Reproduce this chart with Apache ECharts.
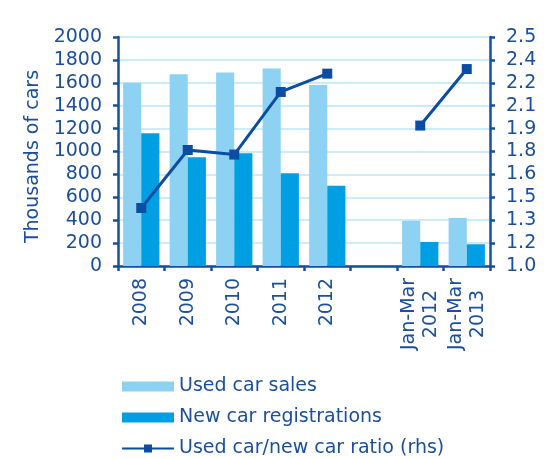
<!DOCTYPE html>
<html>
<head>
<meta charset="utf-8">
<script src="https://cdn.jsdelivr.net/npm/echarts@6/dist/echarts.min.js"></script>
<style>html,body{margin:0;padding:0;background:#fff;}#c{width:548px;height:459px;}</style>
</head>
<body>
<div id="c"></div>
<script>
var categories = ['2008', '2009', '2010', '2011', '2012', '', 'Jan-Mar\n2012', 'Jan-Mar\n2013'];
var usedCarSales = [1600, 1675, 1690, 1725, 1580, null, 395, 420];
var newCarRegistrations = [1160, 950, 985, 810, 700, null, 210, 190];
var ratio = [1.38, 1.76, 1.73, 2.14, 2.26, null, 1.92, 2.29];
var leftTicks = ['0', '200', '400', '600', '800', '1000', '1200', '1400', '1600', '1800', '2000'];
var rightTicks = ['1.0', '1.2', '1.3', '1.5', '1.6', '1.8', '1.9', '2.1', '2.2', '2.4', '2.5'];

var TXT = '#1B4F9B';
var AX = '#1450A0';
var FONT = 'DejaVu Sans';
var FS = 19;
var chart = echarts.init(document.getElementById('c'));
chart.setOption({
  animation: false,
  backgroundColor: '#fff',
  textStyle: { fontFamily: FONT, color: TXT },
  grid: { left: 118, right: 58, top: 37, bottom: 193, containLabel: false },
  legend: {
    orient: 'vertical', left: 121, top: 377, padding: 0, itemWidth: 52, itemHeight: 10, itemGap: 12,
    textStyle: { fontSize: FS, color: TXT, fontFamily: FONT },
    data: [
      { name: 'Used car sales', icon: 'rect' },
      { name: 'New car registrations', icon: 'rect' },
      { name: 'Used car/new car ratio (rhs)' }
    ]
  },
  xAxis: {
    type: 'category', data: categories,
    axisLine: { lineStyle: { color: AX, width: 2.5 } },
    axisTick: { show: true, length: 5, lineStyle: { color: AX, width: 2.5 } },
    axisLabel: {
      rotate: 90, margin: 12, fontSize: FS, color: TXT, fontFamily: FONT, interval: 0, lineHeight: 21,
      formatter: function (v) {
        var p = v.split('\n');
        if (p.length === 2) return '{a|' + p[0] + '}\n{b|' + p[1] + '}';
        return v;
      },
      rich: {
        a: { fontSize: FS, color: TXT, fontFamily: FONT, lineHeight: 22 },
        b: { fontSize: FS, color: TXT, fontFamily: FONT, lineHeight: 22, width: 72, align: 'center' }
      }
    },
    splitLine: { show: false }
  },
  yAxis: [{
    type: 'value', min: 0, max: 2000, interval: 200,
    name: 'Thousands of cars', nameLocation: 'middle', nameGap: 73,
    nameTextStyle: { fontSize: FS, color: TXT, fontFamily: FONT, padding: [0, 10, 0, 0] },
    axisLine: { show: true, lineStyle: { color: AX, width: 2.5 } },
    axisTick: { show: true, length: 5, lineStyle: { color: AX, width: 2.5 } },
    axisLabel: { margin: 16, fontSize: FS, color: TXT, fontFamily: FONT,
      formatter: function (v) { return leftTicks[Math.round(v / 200)]; } },
    splitLine: { show: true, lineStyle: { color: '#BDE6F7', width: 1.5 } }
  }, {
    type: 'value', min: 1.0, max: 2.5, interval: 0.15, position: 'right',
    axisLine: { show: true, lineStyle: { color: AX, width: 2.5 } },
    axisTick: { show: true, length: 5, lineStyle: { color: AX, width: 2.5 } },
    axisLabel: { margin: 16, fontSize: FS, color: TXT, fontFamily: FONT,
      formatter: function (v) { return rightTicks[Math.round((v - 1) / 0.15)]; } },
    splitLine: { show: false }
  }],
  series: [{
    name: 'Used car sales', type: 'bar', data: usedCarSales, barGap: '0%', barCategoryGap: '22%',
    itemStyle: { color: '#8DD2F2' }
  }, {
    name: 'New car registrations', type: 'bar', data: newCarRegistrations,
    itemStyle: { color: '#009FE3' }
  }, {
    name: 'Used car/new car ratio (rhs)', type: 'line', yAxisIndex: 1, data: ratio,
    connectNulls: false, symbol: 'rect', symbolSize: 10, showSymbol: true,
    lineStyle: { color: '#0B4DA2', width: 3 }, itemStyle: { color: '#0B4DA2' }
  }]
});
</script>
</body>
</html>
